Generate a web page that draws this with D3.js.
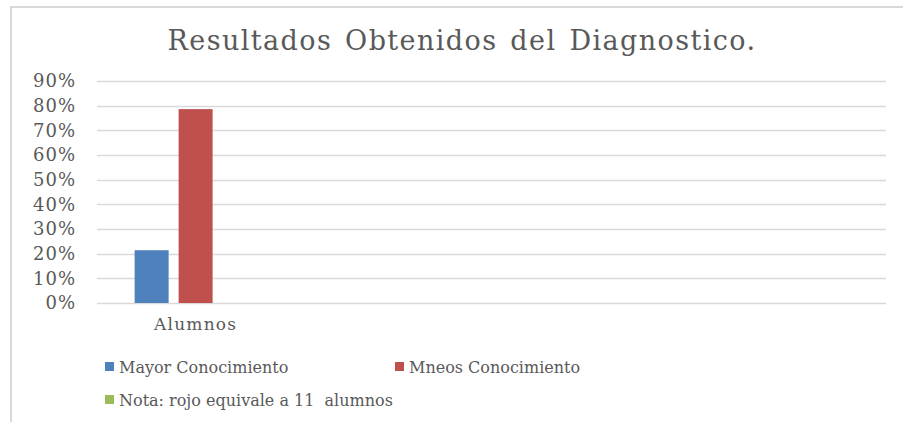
<!DOCTYPE html>
<html>
<head>
<meta charset="utf-8">
<script src="https://cdn.jsdelivr.net/npm/d3@7"></script>
<style>
  html, body { margin: 0; padding: 0; background: #fff; }
  svg { display: block; }
</style>
</head>
<body>
<svg id="chart"></svg>
<script>
const width = 903;
const height = 422;

// data
const categories = ["Alumnos", "", "", ""];
const seriesNames = ["Mayor Conocimiento", "Mneos Conocimiento", "Nota: rojo equivale a 11  alumnos"];
const mayorValues = [21.4, null, null, null];
const mneosValues = [78.6, null, null, null];
const notaValues = [0, null, null, null];
const yTicks = [0, 10, 20, 30, 40, 50, 60, 70, 80, 90];
const colors = ["#4f81bd", "#c0504d", "#9bbb59"];

const series = [mayorValues, mneosValues, notaValues];

const textColor = "#595959";
const font = "'DejaVu Serif', serif";

const svg = d3.select("svg#chart")
    .attr("width", width)
    .attr("height", height)
    .attr("viewBox", [0, 0, width, height]);

// chart frame (only top/left edges are visible in the crop)
svg.append("rect")
    .attr("x", 11)
    .attr("y", 7)
    .attr("width", 1000)
    .attr("height", 1000)
    .attr("fill", "#fff")
    .attr("stroke", "#d9d9d9")
    .attr("stroke-width", 2);

svg.append("text")
    .attr("x", 462)
    .attr("y", 50)
    .attr("text-anchor", "middle")
    .attr("fill", textColor)
    .style("font-family", font)
    .style("font-size", "27px")
    .style("letter-spacing", "1.4px")
    .style("word-spacing", "3px")
    .text("Resultados Obtenidos del Diagnostico.");

const x0 = d3.scaleBand()
    .domain(categories.map((c, i) => i))
    .range([97, 886]);

const x1 = d3.scaleBand()
    .domain(seriesNames)
    .range([0, x0.bandwidth()])
    .paddingInner(10 / 44)
    .paddingOuter(0.855);

const y = d3.scaleLinear()
    .domain([0, 90])
    .range([303, 81]);

// gridlines
svg.append("g")
    .selectAll("line")
    .data(yTicks)
    .join("line")
    .attr("x1", 97)
    .attr("x2", 886)
    .attr("y1", d => Math.round(y(d)) + 0.5)
    .attr("y2", d => Math.round(y(d)) + 0.5)
    .attr("stroke", "#d9d9d9")
    .attr("stroke-width", 1.5);

// y axis labels
const yAxis = d3.axisLeft(y)
    .tickValues(yTicks)
    .tickFormat(d => d + "%")
    .tickSize(0)
    .tickPadding(21);

const yg = svg.append("g")
    .attr("transform", "translate(97,0)")
    .call(yAxis);
yg.select(".domain").remove();
yg.selectAll("text")
    .attr("fill", textColor)
    .style("font-family", font)
    .style("font-size", "18px")
    .style("letter-spacing", "1px");

// bars
const groups = svg.append("g")
    .selectAll("g")
    .data(categories.map((c, i) => i))
    .join("g")
    .attr("transform", i => `translate(${x0(i)},0)`);

groups.selectAll("rect")
    .data(i => seriesNames.map((name, s) => ({ name, s, value: series[s][i] })).filter(d => d.value != null))
    .join("rect")
    .attr("x", d => x1(d.name))
    .attr("width", x1.bandwidth())
    .attr("y", d => y(d.value))
    .attr("height", d => y(0) - y(d.value))
    .attr("fill", d => colors[d.s]);

// category axis labels
const xAxis = d3.axisBottom(x0)
    .tickFormat(i => categories[i])
    .tickSize(0)
    .tickPadding(15);

const xg = svg.append("g")
    .attr("transform", "translate(0,303)")
    .call(xAxis);
xg.select(".domain").remove();
xg.selectAll("text")
    .attr("fill", textColor)
    .style("font-family", font)
    .style("font-size", "17px")
    .style("letter-spacing", "1.2px");

// legend
const legendPos = [[105, 367], [395, 367], [105, 400]];
const legend = svg.append("g")
    .selectAll("g")
    .data(seriesNames)
    .join("g")
    .attr("transform", (d, i) => `translate(${legendPos[i][0]},${legendPos[i][1]})`);

legend.append("rect")
    .attr("x", 0)
    .attr("y", -5)
    .attr("width", 9)
    .attr("height", 9)
    .attr("fill", (d, i) => colors[i]);

legend.append("text")
    .attr("x", 14)
    .attr("y", 0)
    .attr("dy", "0.35em")
    .attr("fill", textColor)
    .style("font-family", font)
    .style("font-size", "16px")
    .style("white-space", "pre")
    .text(d => d);
</script>
</body>
</html>
